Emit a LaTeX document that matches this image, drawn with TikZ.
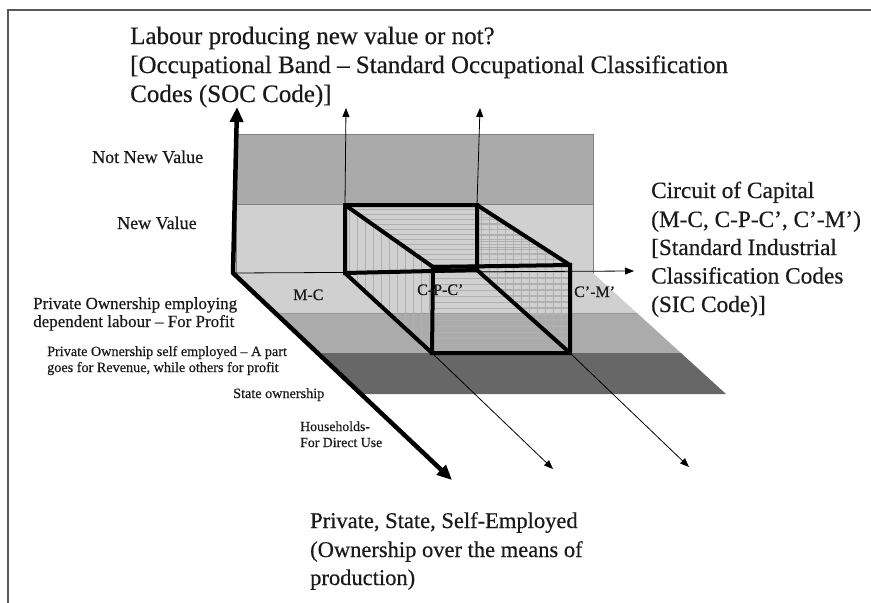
\documentclass[tikz,border=0pt]{standalone}
\usepackage{fontspec}
\setmainfont{Liberation Serif}[FakeBold=0.5]
\usetikzlibrary{arrows.meta}
\definecolor{wallTop}{HTML}{AAAAAA}
\definecolor{wallLow}{HTML}{D0D0D0}
\definecolor{floorA}{HTML}{D0D0D0}
\definecolor{floorB}{HTML}{ABABAB}
\definecolor{floorC}{HTML}{676767}
\definecolor{hatch}{HTML}{B0B0B0}
\definecolor{frameC}{HTML}{5A5A5A}
\definecolor{txt}{HTML}{1A1A1A}
\begin{document}
\begin{tikzpicture}[x=1pt,y=-1pt,
  bigtxt/.style={font=\fontsize{25}{29}\selectfont, inner sep=0, anchor=base west, text=txt},
  captxt/.style={font=\fontsize{23.3}{28}\selectfont, inner sep=0, anchor=base west, text=txt},
  owntxt/.style={font=\fontsize{22.5}{28}\selectfont, inner sep=0, anchor=base west, text=txt},
  midtxt/.style={font=\fontsize{18}{21}\selectfont, inner sep=0, anchor=base west, text=txt},
  cattxt/.style={font=\fontsize{17}{19}\selectfont, inner sep=0, anchor=base west, text=txt},
  smalltxt/.style={font=\fontsize{14.2}{16}\selectfont, inner sep=0, anchor=base west, text=txt},
  hhtxt/.style={font=\fontsize{13.8}{16}\selectfont, inner sep=0, anchor=base west, text=txt},
  celltxt/.style={font=\fontsize{16}{18}\selectfont, inner sep=0, anchor=base west, text=txt},
  thickarrow/.style={line width=4.5pt, -{Triangle[length=15pt,width=13pt]}},
  thinarrow/.style={line width=0.8pt, -{Triangle[length=9pt,width=7pt]}},
  boxedge/.style={line width=4pt, line cap=round, line join=miter},
  hatchline/.style={hatch, line width=0.6pt}]
\useasboundingbox (0,0) rectangle (871,603);
% frame
\draw[frameC, line width=1.6pt] (8,603) -- (8,10) -- (871,10);
% back wall
\fill[wallTop] (236,134) rectangle (593,204);
\fill[wallLow] (236,204) rectangle (593,273);
\draw[gray, line width=0.6pt] (236,134) rectangle (593,273);
\draw[gray, line width=0.6pt] (236,204) -- (593,204);
% floor strips
\fill[floorA] (236,273) -- (593,273) -- (637,313) -- (278.4,313) -- cycle;
\fill[floorB] (278.4,313) -- (637,313) -- (681,353) -- (320.8,353) -- cycle;
\fill[floorC] (320.8,353) -- (681,353) -- (726,394) -- (363.2,394) -- cycle;
\draw[gray!80, line width=0.5pt] (278.4,313) -- (637,313);
% box corners
\coordinate (BTL) at (345,205);
\coordinate (BTR) at (477,205);
\coordinate (BBL) at (345,273);
\coordinate (BBR) at (477,270);
\coordinate (FTL) at (433,267);
\coordinate (FTR) at (570,265);
\coordinate (FBL) at (432,353);
\coordinate (FBR) at (570,353);
% hatching: left face (vertical lines)
\begin{scope}
\clip (BTL) -- (FTL) -- (FBL) -- (BBL) -- cycle;
\foreach \x in {349,357,...,431} \draw[hatchline] (\x,200) -- (\x,360);
\end{scope}
% top face (horizontal lines)
\begin{scope}
\clip (BTL) -- (BTR) -- (FTR) -- (FTL) -- cycle;
\foreach \y in {209,214,...,266} \draw[hatchline] (340,\y) -- (575,\y);
\end{scope}
% right face (grid)
\begin{scope}
\clip (BTR) -- (FTR) -- (FBR) -- (BBR) -- cycle;
\foreach \x in {481,489,...,569} \draw[hatchline] (\x,200) -- (\x,360);
\foreach \y in {211,217,...,352} \draw[hatchline] (470,\y) -- (575,\y);
\end{scope}
% front face (horizontal lines)
\begin{scope}
\clip (FTL) -- (FTR) -- (FBR) -- (FBL) -- cycle;
\foreach \y in {272,278,...,352} \draw[hatchline] (430,\y) -- (575,\y);
\end{scope}
% axes
\coordinate (O) at (233,273);
\coordinate (Ytip) at (237,107);
\coordinate (Xtip) at (634,271);
\coordinate (Ztip) at (452,480);
\coordinate (V1tip) at (346,108);
\coordinate (V2tip) at (480,108);
\coordinate (D1tip) at (553,469);
\coordinate (D2tip) at (689,467);
\draw[thinarrow] (O) -- (Xtip);
\draw[thinarrow] (BTL) -- (V1tip);
\draw[thinarrow] (BTR) -- (V2tip);
\draw[thinarrow] (FBL) -- (D1tip);
\draw[thinarrow] (FBR) -- (D2tip);
% box edges
\draw[boxedge] (BTL) -- (BTR) -- (BBR) -- (BBL) -- cycle;
\draw[boxedge] (FTL) -- (FTR) -- (FBR) -- (FBL) -- cycle;
\draw[boxedge] (BTL) -- (FTL);
\draw[boxedge] (BTR) -- (FTR);
\draw[boxedge] (BBL) -- (FBL);
\draw[boxedge] (BBR) -- (FBR);
% thick axes
\draw[thickarrow] (O) -- (Ytip);
\draw[thickarrow] (O) -- (Ztip);
\fill (O) circle (2.2pt);
% title
\node[bigtxt] (t1) at (130,44) {Labour producing new value or not?};
\node[bigtxt] (t2) at (130,73) {[Occupational Band – Standard Occupational Classification};
\node[bigtxt] (t3) at (130,102) {Codes (SOC Code)]};
% circuit of capital
\node[captxt] (c1) at (651,198) {Circuit of Capital};
\node[captxt] (c2) at (651,227) {(M-C, C-P-C’, C’-M’)};
\node[captxt] (c3) at (651,255) {[Standard Industrial};
\node[captxt] (c4) at (651,283.5) {Classification Codes};
\node[captxt] (c5) at (651,312) {(SIC Code)]};
% ownership axis label
\node[owntxt] (o1) at (310,528) {Private, State, Self-Employed};
\node[owntxt] (o2) at (310,557) {(Ownership over the means of};
\node[owntxt] (o3) at (310,585) {production)};
% wall labels
\node[midtxt] (nnv) at (92,163) {Not New Value};
\node[midtxt] (nv) at (117,229) {New Value};
% ownership categories
\node[cattxt] (p1) at (33,309) {Private Ownership employing};
\node[cattxt] (p2) at (33,327) {dependent labour – For Profit};
\node[smalltxt] (s1) at (47,356) {Private Ownership self employed – A part};
\node[smalltxt] (s2) at (47,372) {goes for Revenue, while others for profit};
\node[smalltxt] (st) at (233,398) {State ownership};
\node[hhtxt] (h1) at (300,431) {Households-};
\node[hhtxt] (h2) at (300,447) {For Direct Use};
% circuit cells
\node[celltxt] (mc) at (293,300) {M-C};
\node[celltxt] (cpc) at (417,295) {C-P-C’};
\node[celltxt] (cm) at (574,297) {C’-M’};
\end{tikzpicture}
\end{document}
